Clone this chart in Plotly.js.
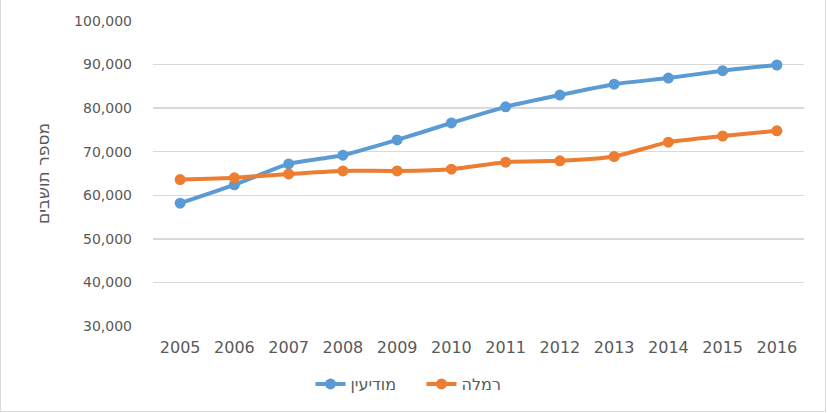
<!DOCTYPE html>
<html>
<head>
<meta charset="utf-8">
<script src="https://cdn.plot.ly/plotly-3.0.1.min.js"></script>
<style>
  html, body { margin: 0; padding: 0; background: #fff; }
  #frame { width: 826px; height: 412px; border-right: 1px solid #D9D9D9; border-bottom: 1px solid #D9D9D9; border-left: 1px solid #D9D9D9; box-sizing: border-box; position: relative; overflow: hidden; }
  #chart { position: absolute; left: -1px; top: 0; width: 827px; height: 413px; }
</style>
</head>
<body>
<div id="frame"><div id="chart"></div></div>
<script>
const years = ["2005","2006","2007","2008","2009","2010","2011","2012","2013","2014","2015","2016"];
const modiinName = "מודיעין";
const ramlaName = "רמלה";
const modiin = [58200, 62400, 67200, 69200, 72700, 76600, 80300, 83000, 85500, 86900, 88600, 89900];
const ramla  = [63600, 64000, 64900, 65600, 65600, 66000, 67600, 67900, 68900, 72200, 73600, 74800];
const yTitle = "מספר תושבים";

const font = "DejaVu Sans, Verdana, sans-serif";
const grey = "#595959";

const traces = [
  {
    x: years, y: modiin, name: modiinName, type: "scatter", mode: "lines+markers",
    line: { color: "#5B9BD5", width: 4, shape: "spline", smoothing: 0.5 },
    marker: { color: "#5B9BD5", size: 11 }
  },
  {
    x: years, y: ramla, name: ramlaName, type: "scatter", mode: "lines+markers",
    line: { color: "#ED7D31", width: 4, shape: "spline", smoothing: 0.5 },
    marker: { color: "#ED7D31", size: 11 }
  }
];

const layout = {
  width: 827, height: 413,
  margin: { l: 153, r: 23, t: 21, b: 87 },
  paper_bgcolor: "rgba(0,0,0,0)", plot_bgcolor: "#fff",
  font: { family: font, color: grey },
  showlegend: true,
  legend: {
    orientation: "h", xref: "container", x: 0.5 + 8 / 827, xanchor: "center",
    yref: "container", y: 29 / 413, yanchor: "middle",
    font: { family: font, size: 16, color: grey },
    entrywidth: 66, entrywidthmode: "pixels", tracegroupgap: 0
  },
  xaxis: {
    type: "category", range: [-0.5, 11.5],
    showgrid: false, zeroline: false, showline: false,
    ticks: "", tickfont: { family: font, size: 16, color: grey },
    ticklabelstandoff: 10, fixedrange: true
  },
  yaxis: {
    range: [30000, 100000], dtick: 10000, tick0: 30000,
    tickformat: ",d", separatethousands: true,
    showgrid: true, gridcolor: "#D9D9D9", gridwidth: 1.3,
    zeroline: false, showline: false, ticks: "",
    tickfont: { family: font, size: 14, color: grey },
    ticklabelstandoff: 20,
    title: { text: yTitle, font: { family: font, size: 17, color: grey }, standoff: 20 },
    fixedrange: true
  }
};

Plotly.newPlot("chart", traces, layout, { displayModeBar: false, staticPlot: true });
</script>
</body>
</html>
